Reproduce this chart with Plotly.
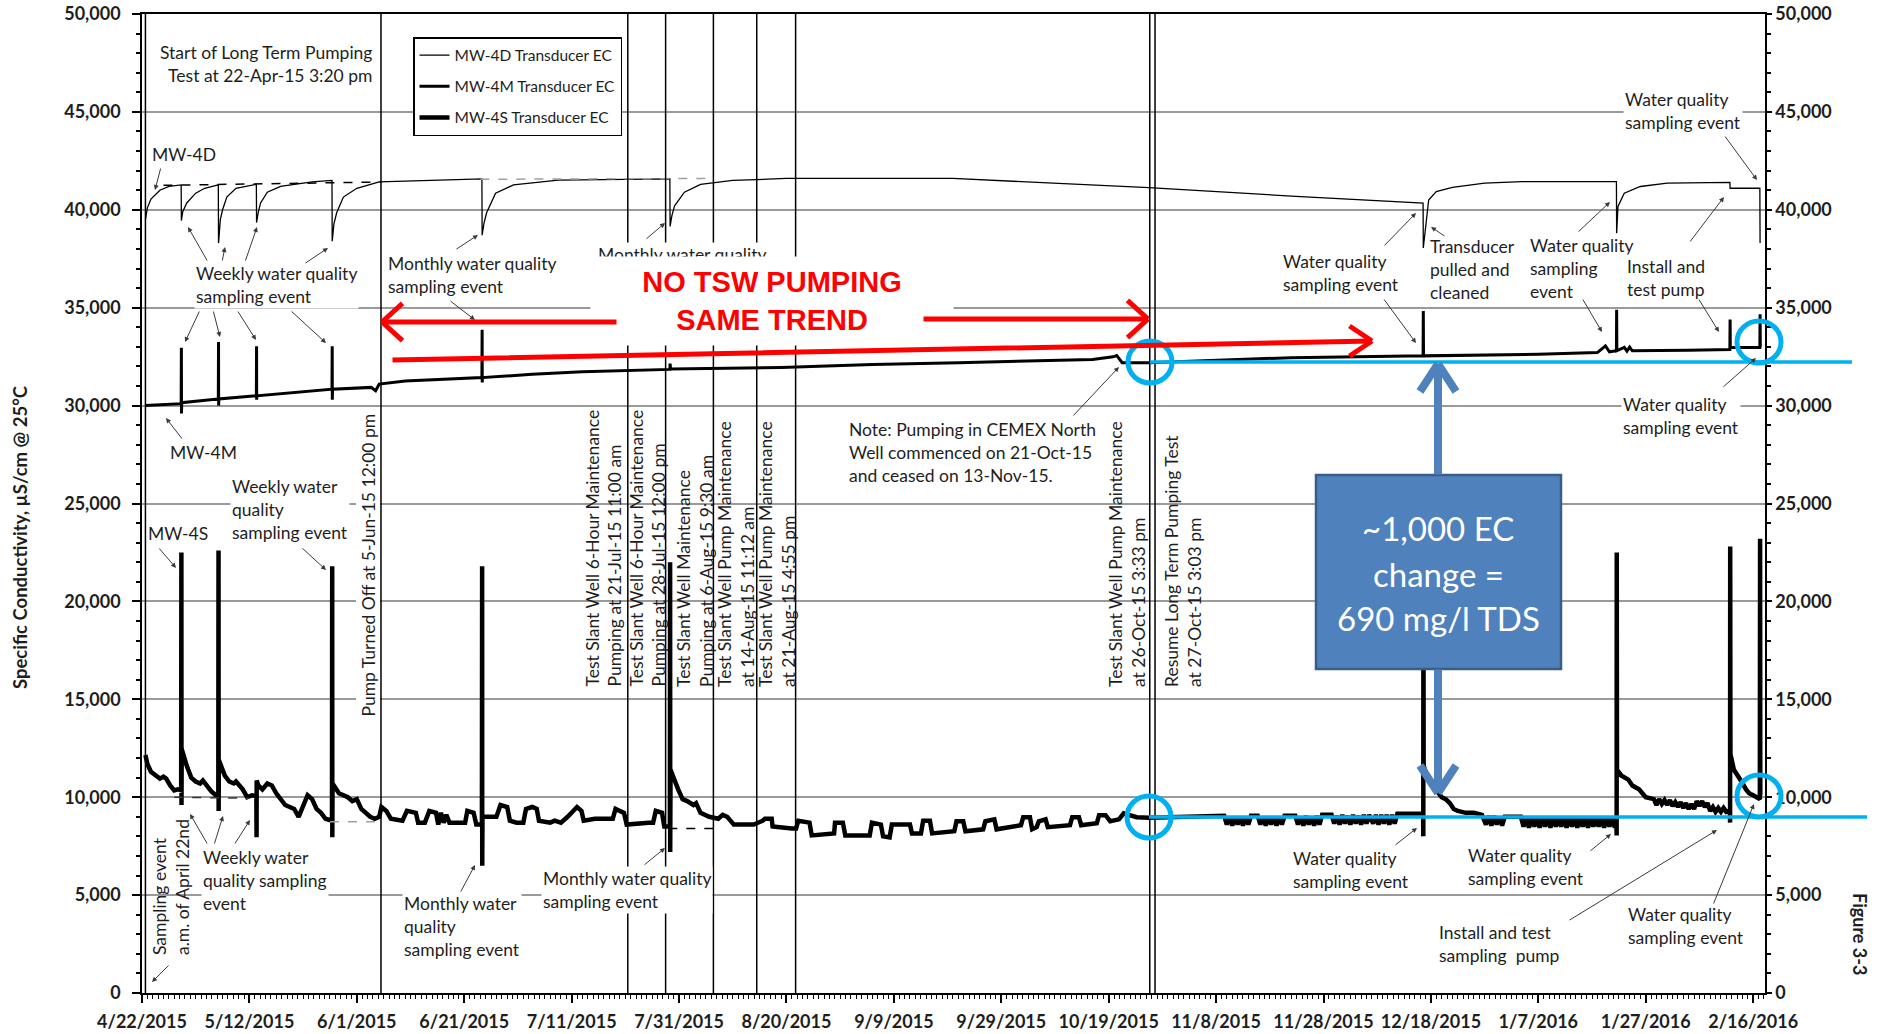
import pandas as pd
import plotly.graph_objects as go

# ------------------------------------------------------------------ data
event_times = ["2015-04-22 15:20", "2015-06-05 12:00", "2015-07-21 11:00",
               "2015-07-28 12:00", "2015-08-06 09:30", "2015-08-14 11:12",
               "2015-08-21 16:55", "2015-10-26 15:33", "2015-10-27 15:03"]

mw4d = [
    ("2015-04-22 15:20", 39500), ("2015-04-23 00:00", 40100), ("2015-04-23 16:00", 40550),
    ("2015-04-25 08:00", 41000), ("2015-04-27 00:00", 41200), ("2015-04-29 07:00", 41270),
    ("2015-04-29 08:00", 39450), ("2015-04-29 14:00", 39900), ("2015-04-30 08:00", 40350),
    ("2015-05-02 00:00", 40850), ("2015-05-03 16:00", 41100), ("2015-05-06 05:00", 41270),
    ("2015-05-06 06:00", 38300), ("2015-05-06 14:00", 39500), ("2015-05-07 00:00", 40000),
    ("2015-05-07 19:00", 40650), ("2015-05-09 12:00", 41100), ("2015-05-13 07:00", 41300),
    ("2015-05-13 08:00", 39350), ("2015-05-13 16:00", 39900), ("2015-05-14 02:00", 40350),
    ("2015-05-15 08:00", 40900), ("2015-05-17 19:00", 41200), ("2015-05-23 16:00", 41430),
    ("2015-05-27 09:00", 41500), ("2015-05-27 10:00", 38400), ("2015-05-27 18:00", 39300),
    ("2015-05-28 06:00", 39850), ("2015-05-29 12:00", 40650), ("2015-06-01 00:00", 41100),
    ("2015-06-05 04:00", 41430), ("2015-06-17 16:00", 41520), ("2015-06-24 07:00", 41580),
    ("2015-06-24 08:00", 38700), ("2015-06-24 16:00", 39300), ("2015-06-25 04:00", 39850),
    ("2015-06-26 20:00", 40850), ("2015-06-30 04:00", 41270), ("2015-07-08 12:00", 41520),
    ("2015-07-29 07:00", 41580), ("2015-07-29 08:00", 39150), ("2015-07-29 16:00", 39700),
    ("2015-07-30 04:00", 40200), ("2015-08-01 00:00", 40900), ("2015-08-04 00:00", 41300),
    ("2015-08-10 00:00", 41500), ("2015-08-20 00:00", 41600), ("2015-09-20 00:00", 41600),
    ("2015-10-05 00:00", 41420), ("2015-10-26 12:00", 41130), ("2015-11-22 00:00", 40700),
    ("2015-12-16 13:00", 40340), ("2015-12-16 14:00", 38050), ("2015-12-17 00:00", 38980),
    ("2015-12-17 14:00", 40500), ("2015-12-19 00:00", 40930), ("2015-12-22 00:00", 41150),
    ("2015-12-28 00:00", 41360), ("2016-01-04 00:00", 41440), ("2016-01-21 13:00", 41440),
    ("2016-01-21 14:00", 38800), ("2016-01-21 20:00", 40170), ("2016-01-23 00:00", 40850),
    ("2016-01-26 00:00", 41190), ("2016-01-31 00:00", 41360), ("2016-02-11 16:00", 41400),
    ("2016-02-11 17:00", 41100), ("2016-02-17 06:00", 41100), ("2016-02-17 07:00", 38300),
]

mw4m = [
    ("2015-04-22 15:20", 30000), ("2015-04-26 00:00", 30050), ("2015-04-29 07:00", 30100),
    ("2015-04-29 08:00", 32950), ("2015-04-29 08:30", 29600), ("2015-04-29 09:30", 30150),
    ("2015-05-06 05:00", 30340), ("2015-05-06 06:00", 33250), ("2015-05-06 06:30", 30000),
    ("2015-05-06 07:30", 30340), ("2015-05-13 07:00", 30500), ("2015-05-13 08:00", 33030),
    ("2015-05-13 08:30", 30300), ("2015-05-13 09:30", 30500), ("2015-05-27 09:00", 30840),
    ("2015-05-27 10:00", 33030), ("2015-05-27 10:30", 30300), ("2015-05-27 11:30", 30840),
    ("2015-06-03 16:00", 30930), ("2015-06-04 12:00", 30760), ("2015-06-05 04:00", 31100),
    ("2015-06-10 00:00", 31260), ("2015-06-24 07:00", 31430), ("2015-06-24 08:00", 33870),
    ("2015-06-24 08:30", 31180), ("2015-06-24 09:30", 31430), ("2015-07-03 16:00", 31600),
    ("2015-07-13 00:00", 31730), ("2015-07-29 07:00", 31850), ("2015-07-29 08:00", 32150),
    ("2015-07-29 10:00", 31870), ("2015-08-19 00:00", 31940), ("2015-09-05 00:00", 32100),
    ("2015-09-21 00:00", 32190), ("2015-10-08 00:00", 32310), ("2015-10-16 00:00", 32360),
    ("2015-10-19 20:00", 32490), ("2015-10-20 12:00", 32560), ("2015-10-21 12:00", 32190),
    ("2015-10-26 12:00", 32190), ("2015-11-22 00:00", 32450), ("2015-12-16 13:00", 32540),
    ("2015-12-16 14:00", 34830), ("2015-12-16 15:00", 32540), ("2016-01-07 00:00", 32620),
    ("2016-01-18 00:00", 32710), ("2016-01-19 12:00", 33050), ("2016-01-20 06:00", 32750),
    ("2016-01-21 13:00", 32800), ("2016-01-21 14:00", 34900), ("2016-01-21 15:00", 32800),
    ("2016-01-23 00:00", 32970), ("2016-01-23 12:00", 32780), ("2016-01-24 00:00", 32990),
    ("2016-01-24 12:00", 32800), ("2016-02-04 00:00", 32830), ("2016-02-11 16:00", 32870),
    ("2016-02-11 17:00", 34400), ("2016-02-11 18:00", 32970), ("2016-02-17 06:00", 32970),
    ("2016-02-17 07:00", 34660), ("2016-02-17 08:00", 32980),
]

mw4s = [
    ("2015-04-22 15:20", 12150), ("2015-04-23 00:00", 11700), ("2015-04-23 16:00", 11300),
    ("2015-04-24 12:00", 11150), ("2015-04-25 08:00", 10950), ("2015-04-26 00:00", 11050),
    ("2015-04-26 12:00", 10950), ("2015-04-27 06:00", 10600), ("2015-04-28 00:00", 10350),
    ("2015-04-28 16:00", 10400), ("2015-04-29 07:00", 10350), ("2015-04-29 08:00", 22500),
    ("2015-04-29 08:30", 9600), ("2015-04-29 09:30", 12450), ("2015-04-30 08:00", 11600),
    ("2015-05-01 04:00", 11000), ("2015-05-02 00:00", 10800), ("2015-05-02 20:00", 10700),
    ("2015-05-03 08:00", 10850), ("2015-05-04 00:00", 10600), ("2015-05-04 22:00", 10300),
    ("2015-05-05 18:00", 10100), ("2015-05-06 05:00", 10050), ("2015-05-06 06:00", 22600),
    ("2015-05-06 06:30", 9300), ("2015-05-06 07:30", 11900), ("2015-05-07 10:00", 11100),
    ("2015-05-08 06:00", 10800), ("2015-05-09 02:00", 10700), ("2015-05-09 12:00", 10800),
    ("2015-05-10 18:00", 10400), ("2015-05-11 14:00", 10000), ("2015-05-12 12:00", 10100),
    ("2015-05-13 07:00", 10050), ("2015-05-13 08:00", 7950), ("2015-05-13 08:30", 10850),
    ("2015-05-13 16:00", 10600), ("2015-05-14 10:00", 10400), ("2015-05-15 08:00", 10700),
    ("2015-05-16 04:00", 10600), ("2015-05-17 00:00", 10200), ("2015-05-17 20:00", 9900),
    ("2015-05-18 16:00", 9600), ("2015-05-19 12:00", 9500), ("2015-05-20 08:00", 9400),
    ("2015-05-21 04:00", 9000), ("2015-05-22 00:00", 9500), ("2015-05-22 20:00", 10100),
    ("2015-05-23 16:00", 9900), ("2015-05-24 12:00", 9400), ("2015-05-25 08:00", 9200),
    ("2015-05-26 04:00", 8900), ("2015-05-27 09:00", 8800), ("2015-05-27 10:00", 21800),
    ("2015-05-27 10:30", 7950), ("2015-05-27 11:30", 10700), ("2015-05-28 16:00", 10200),
    ("2015-05-29 12:00", 10100), ("2015-05-30 08:00", 10000), ("2015-05-31 04:00", 9800),
    ("2015-06-01 00:00", 9900), ("2015-06-01 20:00", 9400), ("2015-06-02 16:00", 9200),
    ("2015-06-03 12:00", 9000), ("2015-06-04 08:00", 8900), ("2015-06-05 04:00", 9000),
    ("2015-06-05 14:00", 9500), ("2015-06-06 12:00", 9300), ("2015-06-07 08:00", 8900),
    ("2015-06-09 12:00", 8800), ("2015-06-10 08:00", 9300), ("2015-06-12 00:00", 9200),
    ("2015-06-12 10:00", 8700), ("2015-06-13 16:00", 8700), ("2015-06-14 12:00", 9300),
    ("2015-06-15 18:00", 9200), ("2015-06-16 04:00", 8600), ("2015-06-16 16:00", 9200),
    ("2015-06-17 04:00", 8700), ("2015-06-17 16:00", 9100), ("2015-06-18 06:00", 8700),
    ("2015-06-21 04:00", 8700), ("2015-06-21 14:00", 9300), ("2015-06-22 18:00", 9200),
    ("2015-06-23 06:00", 8600), ("2015-06-24 07:00", 8600), ("2015-06-24 08:00", 21800),
    ("2015-06-24 08:30", 6500), ("2015-06-24 09:30", 9000), ("2015-06-27 00:00", 9000),
    ("2015-06-27 18:00", 9600), ("2015-06-29 00:00", 9500), ("2015-06-29 12:00", 8800),
    ("2015-06-30 18:00", 8700), ("2015-07-02 00:00", 8700), ("2015-07-02 12:00", 9400),
    ("2015-07-03 16:00", 9500), ("2015-07-04 12:00", 9400), ("2015-07-04 22:00", 8800),
    ("2015-07-07 00:00", 8700), ("2015-07-07 20:00", 8800), ("2015-07-09 00:00", 8700),
    ("2015-07-10 06:00", 9000), ("2015-07-12 00:00", 9500), ("2015-07-12 20:00", 9300),
    ("2015-07-13 06:00", 8800), ("2015-07-15 08:00", 8900), ("2015-07-18 16:00", 8900),
    ("2015-07-19 04:00", 9400), ("2015-07-20 18:00", 9200), ("2015-07-21 06:00", 8600),
    ("2015-07-25 08:00", 8700), ("2015-07-26 04:00", 8700), ("2015-07-26 16:00", 9300),
    ("2015-07-27 20:00", 9200), ("2015-07-28 06:00", 8500), ("2015-07-29 07:00", 8500),
    ("2015-07-29 08:00", 22000), ("2015-07-29 08:30", 7200), ("2015-07-29 10:00", 11400),
    ("2015-07-30 20:00", 10400), ("2015-07-31 16:00", 9900), ("2015-08-01 12:00", 9800),
    ("2015-08-02 08:00", 9700), ("2015-08-02 16:00", 9600), ("2015-08-03 04:00", 9700),
    ("2015-08-04 00:00", 9200), ("2015-08-05 15:00", 9000), ("2015-08-07 07:00", 8900),
    ("2015-08-08 03:00", 9100), ("2015-08-08 23:00", 9000), ("2015-08-10 05:00", 8600),
    ("2015-08-13 22:00", 8600), ("2015-08-15 14:00", 8800), ("2015-08-16 00:00", 8900),
    ("2015-08-17 06:00", 8900), ("2015-08-17 10:00", 8500), ("2015-08-21 00:00", 8400),
    ("2015-08-21 19:00", 8400), ("2015-08-22 05:00", 8800), ("2015-08-24 07:00", 8700),
    ("2015-08-24 17:00", 8050), ("2015-08-28 21:00", 8150), ("2015-08-29 01:00", 8700),
    ("2015-08-30 12:00", 8700), ("2015-08-30 23:00", 8050), ("2015-09-04 12:00", 8050),
    ("2015-09-04 22:00", 8700), ("2015-09-06 14:00", 8600), ("2015-09-07 00:00", 8000),
    ("2015-09-08 05:00", 7950), ("2015-09-08 15:00", 8600), ("2015-09-12 00:00", 8600),
    ("2015-09-12 09:00", 8150), ("2015-09-14 01:00", 8150), ("2015-09-14 11:00", 8800),
    ("2015-09-15 17:00", 8800), ("2015-09-16 03:00", 8150), ("2015-09-20 06:00", 8260),
    ("2015-09-20 16:00", 8770), ("2015-09-21 22:00", 8770), ("2015-09-22 08:00", 8260),
    ("2015-09-25 15:00", 8360), ("2015-09-26 01:00", 8770), ("2015-09-27 17:00", 8870),
    ("2015-09-28 03:00", 8360), ("2015-10-02 16:00", 8570), ("2015-10-03 02:00", 8980),
    ("2015-10-04 08:00", 8980), ("2015-10-04 18:00", 8360), ("2015-10-05 14:00", 8470),
    ("2015-10-06 00:00", 8770), ("2015-10-07 06:00", 8870), ("2015-10-07 16:00", 8470),
    ("2015-10-11 19:00", 8570), ("2015-10-12 05:00", 8980), ("2015-10-13 11:00", 8980),
    ("2015-10-13 21:00", 8570), ("2015-10-16 19:00", 8670), ("2015-10-17 05:00", 9080),
    ("2015-10-18 10:00", 9080), ("2015-10-19 07:00", 8770), ("2015-10-20 22:00", 8870),
    ("2015-10-21 19:00", 9180), ("2015-10-23 00:00", 9080), ("2015-10-24 05:00", 8980),
    ("2015-10-26 12:00", 8950), ("2015-11-09 12:00", 9050),
    ("2015-11-10 00:00", 8600), ("2015-11-10 12:00", 9000), ("2015-11-11 00:00", 8550),
    ("2015-11-11 12:00", 9000), ("2015-11-12 00:00", 8600), ("2015-11-12 12:00", 9000),
    ("2015-11-13 00:00", 8550), ("2015-11-13 12:00", 9000), ("2015-11-14 00:00", 8600),
    ("2015-11-14 12:00", 9050), ("2015-11-15 18:00", 9050),
    ("2015-11-16 06:00", 8600), ("2015-11-16 18:00", 9000), ("2015-11-17 06:00", 8550),
    ("2015-11-17 18:00", 9000), ("2015-11-18 06:00", 8600), ("2015-11-18 18:00", 9000),
    ("2015-11-19 06:00", 8550), ("2015-11-19 18:00", 9000), ("2015-11-20 06:00", 8600),
    ("2015-11-20 18:00", 9050), ("2015-11-22 18:00", 9050),
    ("2015-11-23 06:00", 8600), ("2015-11-23 18:00", 9000), ("2015-11-24 06:00", 8550),
    ("2015-11-24 18:00", 9050), ("2015-11-25 06:00", 8600), ("2015-11-25 18:00", 9000),
    ("2015-11-26 06:00", 8550), ("2015-11-26 18:00", 9050), ("2015-11-27 06:00", 8600),
    ("2015-11-27 18:00", 9100), ("2015-11-29 12:00", 9100),
    ("2015-11-30 00:00", 8650), ("2015-11-30 12:00", 9050), ("2015-12-01 00:00", 8600),
    ("2015-12-01 12:00", 9100), ("2015-12-02 00:00", 8650), ("2015-12-02 12:00", 9050),
    ("2015-12-03 00:00", 8600), ("2015-12-03 12:00", 9100), ("2015-12-04 00:00", 8650),
    ("2015-12-04 12:00", 9050), ("2015-12-05 00:00", 8600), ("2015-12-05 12:00", 9100),
    ("2015-12-06 00:00", 8650), ("2015-12-06 12:00", 9100),
    ("2015-12-07 06:00", 8650), ("2015-12-07 18:00", 9100), ("2015-12-08 06:00", 8600),
    ("2015-12-08 18:00", 9100), ("2015-12-09 06:00", 8650), ("2015-12-09 18:00", 9100),
    ("2015-12-10 06:00", 8600), ("2015-12-10 18:00", 9100), ("2015-12-11 06:00", 8650),
    ("2015-12-11 18:00", 9150), ("2015-12-16 13:00", 9150), ("2015-12-16 14:00", 8000),
    ("2015-12-16 14:30", 22600), ("2015-12-16 15:30", 11600), ("2015-12-17 12:00", 10900),
    ("2015-12-18 12:00", 10500), ("2015-12-19 06:00", 10200), ("2015-12-20 00:00", 10000),
    ("2015-12-20 18:00", 9900), ("2015-12-21 12:00", 9700), ("2015-12-22 06:00", 9400),
    ("2015-12-23 00:00", 9300), ("2015-12-24 12:00", 9200), ("2015-12-26 00:00", 9200),
    ("2015-12-27 12:00", 9100),
    ("2015-12-28 06:00", 8600), ("2015-12-28 18:00", 9050), ("2015-12-29 06:00", 8550),
    ("2015-12-29 18:00", 9050), ("2015-12-30 06:00", 8600), ("2015-12-30 18:00", 9000),
    ("2015-12-31 06:00", 8550), ("2015-12-31 18:00", 9000), ("2016-01-03 18:00", 9000),
    ("2016-01-04 06:00", 8500), ("2016-01-04 18:00", 8950), ("2016-01-05 06:00", 8450),
    ("2016-01-05 18:00", 8950), ("2016-01-06 06:00", 8500), ("2016-01-06 18:00", 8950),
    ("2016-01-07 06:00", 8450), ("2016-01-07 18:00", 8950), ("2016-01-08 06:00", 8500),
    ("2016-01-08 18:00", 8950), ("2016-01-09 06:00", 8450), ("2016-01-09 18:00", 8950),
    ("2016-01-10 06:00", 8500), ("2016-01-10 18:00", 8950),
    ("2016-01-11 06:00", 8500), ("2016-01-11 18:00", 8950), ("2016-01-12 06:00", 8450),
    ("2016-01-12 18:00", 8950), ("2016-01-13 06:00", 8500), ("2016-01-13 18:00", 8950),
    ("2016-01-14 06:00", 8450), ("2016-01-14 18:00", 8950), ("2016-01-15 06:00", 8500),
    ("2016-01-15 18:00", 8950), ("2016-01-16 06:00", 8450), ("2016-01-16 18:00", 8950),
    ("2016-01-17 06:00", 8500), ("2016-01-17 18:00", 8950),
    ("2016-01-18 06:00", 8500), ("2016-01-18 18:00", 8950), ("2016-01-19 06:00", 8450),
    ("2016-01-19 18:00", 8950), ("2016-01-20 06:00", 8500), ("2016-01-20 18:00", 8950),
    ("2016-01-21 06:00", 8450), ("2016-01-21 13:00", 8900), ("2016-01-21 14:00", 8050),
    ("2016-01-21 14:30", 22500), ("2016-01-21 15:30", 11400), ("2016-01-22 12:00", 11100),
    ("2016-01-23 18:00", 10900), ("2016-01-24 12:00", 10600), ("2016-01-25 18:00", 10400),
    ("2016-01-27 00:00", 10000), ("2016-01-28 12:00", 9900), ("2016-01-29 00:00", 9600),
    ("2016-01-29 12:00", 9900), ("2016-01-30 00:00", 9650), ("2016-01-30 12:00", 9850),
    ("2016-01-31 00:00", 9600), ("2016-01-31 12:00", 9850), ("2016-02-01 00:00", 9550),
    ("2016-02-01 12:00", 9750), ("2016-02-02 00:00", 9500), ("2016-02-02 12:00", 9750),
    ("2016-02-03 00:00", 9450), ("2016-02-03 12:00", 9700), ("2016-02-04 00:00", 9400),
    ("2016-02-04 12:00", 9650), ("2016-02-05 00:00", 9400), ("2016-02-05 12:00", 9800),
    ("2016-02-06 00:00", 9550), ("2016-02-06 12:00", 9800), ("2016-02-07 00:00", 9500),
    ("2016-02-07 12:00", 9700), ("2016-02-08 00:00", 9300), ("2016-02-08 12:00", 9500),
    ("2016-02-09 00:00", 9250), ("2016-02-09 12:00", 9450), ("2016-02-10 00:00", 9250),
    ("2016-02-10 12:00", 9450), ("2016-02-11 00:00", 9250), ("2016-02-11 16:00", 9300),
    ("2016-02-11 17:00", 8700), ("2016-02-11 17:30", 22800), ("2016-02-11 18:30", 12200),
    ("2016-02-12 10:00", 11400), ("2016-02-13 06:00", 11100), ("2016-02-13 20:00", 10800),
    ("2016-02-14 16:00", 10400), ("2016-02-15 06:00", 10200), ("2016-02-16 00:00", 10100),
    ("2016-02-16 16:00", 10000), ("2016-02-17 06:00", 9900), ("2016-02-17 07:00", 23200),
    ("2016-02-17 08:00", 10100),
]

# dashed reference (trend) lines
mw4d_trend_a = [("2015-04-26 00:00", 41250), ("2015-06-05 12:00", 41420)]
mw4d_trend_b = [("2015-06-24 00:00", 41560), ("2015-08-06 00:00", 41600)]
mw4s_trend_a = [("2015-04-28 00:00", 10000), ("2015-05-12 00:00", 9950)]
mw4s_trend_b = [("2015-05-27 00:00", 8750), ("2015-06-05 12:00", 8750)]
mw4s_trend_c = [("2015-07-29 00:00", 8400), ("2015-08-08 00:00", 8400)]

series_names = ["MW-4D Transducer EC", "MW-4M Transducer EC", "MW-4S Transducer EC"]

# ------------------------------------------------------------------ layout helpers
W, H = 1881, 1034
PL, PR, PT, PB = 142, 1765, 14, 993          # plot-area box in page pixels
X_MIN = pd.Timestamp("2015-04-22 00:00")
X_MAX = pd.Timestamp("2016-02-18 05:00")
Y_MAX = 50000

FONT = "Lato, 'Open Sans', sans-serif"
TXT = "#1e1e1e"
FS = 17.5


def xp(px):
    return (px - PL) / (PR - PL)


def yp(py):
    return (PB - py) / (PB - PT)


def unzip(pairs):
    return [p[0] for p in pairs], [p[1] for p in pairs]


fig = go.Figure()

for pairs, nm, lw, grp in [(mw4d, series_names[0], 1.3, "a"),
                           (mw4m, series_names[1], 3.0, "b"),
                           (mw4s, series_names[2], 4.5, "c")]:
    xs, ys = unzip(pairs)
    fig.add_trace(go.Scatter(x=xs, y=ys, mode="lines", name=nm, legendgroup=grp,
                             line=dict(color="black", width=lw), hoverinfo="skip"))

for pairs, col, ax in [(mw4d_trend_a, "#000000", "y"), (mw4d_trend_b, "#a0a0a0", "y"),
                       (mw4s_trend_a, "#333333", "y"), (mw4s_trend_b, "#a0a0a0", "y"),
                       (mw4s_trend_c, "#000000", "y2")]:
    xs, ys = unzip(pairs)
    fig.add_trace(go.Scatter(x=xs, y=ys, mode="lines", showlegend=False, yaxis=ax,
                             line=dict(color=col, width=1.5, dash="dash"), hoverinfo="skip"))

# ------------------------------------------------------------------ shapes
shapes = []
for t in event_times:
    shapes.append(dict(type="line", xref="x", yref="paper", x0=t, x1=t, y0=0, y1=1,
                       line=dict(color="black", width=1.5), layer="above"))
# blue call-out box
shapes.append(dict(type="rect", xref="paper", yref="paper", x0=xp(1316), x1=xp(1561),
                   y0=yp(669), y1=yp(475), fillcolor="#4F81BD",
                   line=dict(color="#385D8A", width=2.5), layer="above"))
# cyan reference lines
CYAN = "#00B0F0"
shapes.append(dict(type="line", xref="paper", yref="paper", x0=xp(1150), x1=xp(1852),
                   y0=yp(362), y1=yp(362), line=dict(color=CYAN, width=3.5), layer="above"))
shapes.append(dict(type="line", xref="paper", yref="paper", x0=xp(1149), x1=xp(1867),
                   y0=yp(817), y1=yp(817), line=dict(color=CYAN, width=3.5), layer="above"))
for cx, cy in [(1150, 362), (1759, 342), (1149, 817), (1759, 796)]:
    shapes.append(dict(type="circle", xref="paper", yref="paper", xsizemode="pixel",
                       ysizemode="pixel", xanchor=xp(cx), yanchor=yp(cy), x0=-22, x1=22,
                       y0=-21, y1=21, line=dict(color=CYAN, width=5), layer="above"))

# ------------------------------------------------------------------ annotations
ann = []


def text(t, px, py, xanchor="left", yanchor="middle", align="left", size=FS, angle=0,
         bg=True, color=TXT, weight="normal", family=FONT, **kw):
    d = dict(text=t, x=xp(px), y=yp(py), xref="paper", yref="paper",
             xanchor=xanchor, yanchor=yanchor, align=align, showarrow=False,
             textangle=angle, bgcolor="white" if bg else "rgba(0,0,0,0)", borderpad=1,
             font=dict(family=family, size=size, color=color, weight=weight))
    d.update(kw)
    ann.append(d)


def arrow(tail, tip, color="#3a3a3a", width=1, head=2, size=1.0):
    ann.append(dict(text="", x=xp(tip[0]), y=yp(tip[1]), xref="paper", yref="paper",
                    ax=tail[0] - tip[0], ay=tail[1] - tip[1], axref="pixel", ayref="pixel",
                    showarrow=True, arrowhead=head, arrowsize=size, arrowwidth=width,
                    arrowcolor=color, standoff=0, startstandoff=0))


def chevron_arrow(tail, tip, arms, color, width):
    """shaft plus an open 'V' head, like the hand-drawn call-out arrows"""
    arrow(tail, tip, color=color, width=width, head=0)
    for a in arms:
        arrow(a, tip, color=color, width=width, head=0)


text("Start of Long Term Pumping<br>Test at 22-Apr-15 3:20 pm", 374, 64, xanchor="right",
     align="right", bg=False)
text("MW-4D", 150, 155, bg=False)
text("Weekly water quality<br>sampling event", 194, 285)
text("Monthly water quality<br>sampling event", 386, 275)
text("Monthly water quality<br>sampling event", 596, 266)
text("MW-4M", 168, 452, bg=False)
text("MW-4S", 146, 533, bg=False)
text("Weekly water<br>quality<br>sampling event", 230, 509)
text("Pump Turned Off at 5-Jun-15 12:00 pm", 368, 719, xanchor="center", yanchor="bottom",
     angle=-90)
text("Sampling event<br>a.m. of April 22nd", 171, 957, xanchor="center", yanchor="bottom",
     angle=-90, bg=False)
text("Weekly water<br>quality sampling<br>event", 201, 880)
text("Monthly water<br>quality<br>sampling event", 402, 926)
text("Monthly water quality<br>sampling event", 541, 890)
for t, cx in [("Test Slant Well 6-Hour Maintenance<br>Pumping at 21-Jul-15 11:00 am", 603),
              ("Test Slant Well 6-Hour Maintenance<br>Pumping at 28-Jul-15 12:00 pm", 647),
              ("Test Slant Well Maintenance<br>Pumping at 6-Aug-15 9:30 am", 695),
              ("Test Slant Well Pump Maintenance<br>at 14-Aug-15 11:12 am", 736),
              ("Test Slant Well Pump Maintenance<br>at 21-Aug-15 4:55 pm", 777),
              ("Test Slant Well Pump Maintenance<br>at 26-Oct-15 3:33 pm", 1127),
              ("Resume Long Term Pumping Test<br>at 27-Oct-15 3:03 pm", 1183)]:
    text(t, cx, 689, xanchor="center", yanchor="bottom", angle=-90, bg=False)
text("Note: Pumping in CEMEX North<br>Well commenced on 21-Oct-15<br>and ceased on 13-Nov-15.",
     847, 452)
text("Water quality<br>sampling event", 1281, 273)
text("Transducer<br>pulled and<br>cleaned", 1428, 270)
text("Water quality<br>sampling<br>event", 1528, 268, bg=False)
text("Install and<br>test pump", 1625, 278)
text("Water quality<br>sampling event", 1623, 111)
text("Water quality<br>sampling event", 1621, 416)
text("Water quality<br>sampling event", 1291, 870)
text("Water quality<br>sampling event", 1466, 867)
text("Install and test<br>sampling  pump", 1437, 944)
text("Water quality<br>sampling event", 1626, 926)

# red headline on a white panel (hides lines / the text behind it)
text("NO TSW PUMPING<br>SAME TREND", 772, 301, xanchor="center", align="center", size=29,
     bg=True, color="#FF0000", weight="bold", family="'Liberation Sans', Arial, sans-serif",
     width=360, height=86, valign="middle")

# thin black pointer arrows
for tail, tip in [((161, 167), (155, 190)),
                  ((208, 262), (188, 227)), ((222, 262), (225, 247)), ((245, 262), (257, 227)),
                  ((304, 264), (328, 248)),
                  ((200, 310), (185, 342)), ((213, 310), (220, 337)), ((237, 310), (256, 340)),
                  ((290, 310), (326, 343)),
                  ((455, 250), (478, 235)), ((449, 300), (475, 320)), ((645, 240), (665, 223)),
                  ((183, 440), (166, 418)), ((158, 547), (176, 568)), ((301, 547), (326, 570)),
                  ((170, 964), (152, 982)),
                  ((208, 845), (190, 814)), ((214, 845), (223, 816)), ((234, 845), (250, 820)),
                  ((460, 893), (475, 865)), ((643, 866), (665, 848)),
                  ((1072, 417), (1119, 367)),
                  ((1383, 247), (1416, 213)), ((1383, 298), (1416, 343)),
                  ((1446, 237), (1431, 227)),
                  ((1577, 233), (1610, 202)), ((1582, 298), (1602, 332)),
                  ((1689, 243), (1724, 197)), ((1698, 298), (1719, 332)),
                  ((1724, 135), (1757, 180)), ((1722, 388), (1756, 358)),
                  ((1394, 846), (1417, 828)), ((1589, 852), (1611, 834)),
                  ((1568, 921), (1717, 830)), ((1713, 905), (1754, 804))]:
    arrow(tail, tip)

# red arrows with open heads
RED = "#FF0000"
chevron_arrow((618, 322), (382, 322), [(404, 302), (404, 342)], RED, 5)
chevron_arrow((922, 319), (1148, 319), [(1126, 299), (1126, 339)], RED, 5)
chevron_arrow((391, 360), (1372, 341), [(1348, 325), (1348, 357)], RED, 5)

# blue double arrow and box text
BLUE = "#4F81BD"
chevron_arrow((1438, 476), (1438, 364), [(1419, 393), (1457, 393)], BLUE, 8)
chevron_arrow((1438, 668), (1438, 793), [(1419, 764), (1457, 764)], BLUE, 8)
for t, cy in [("~1,000 EC", 528), ("change =", 574), ("690 mg/l TDS", 618)]:
    text(t, 1438, cy, xanchor="center", align="center", size=33, bg=False, color="white")

# axis title and figure label
text("Specific Conductivity, µS/cm @ 25°C", 20, 537, xanchor="center", align="center",
     size=18.5, angle=-90, bg=False, weight="bold")
text("Figure 3-3", 1860, 934, xanchor="center", align="center", size=18, angle=90,
     bg=False, weight="bold")

# ------------------------------------------------------------------ axes
tickfont = dict(family=FONT, size=18, color="#1e1e1e", weight="bold")
fig.update_layout(
    width=W, height=H,
    margin=dict(l=PL, r=W - PR, t=PT, b=H - PB, pad=0, autoexpand=False),
    paper_bgcolor="white", plot_bgcolor="white",
    shapes=shapes, annotations=ann,
    showlegend=True,
    legend=dict(x=xp(413), y=yp(37), xanchor="left", yanchor="top", bgcolor="white",
                bordercolor="black", borderwidth=1.5, tracegroupgap=8,
                font=dict(family=FONT, size=15.5, color="#1e1e1e"),
                itemwidth=30, traceorder="grouped"),
    xaxis=dict(type="date", range=[X_MIN, X_MAX], tick0="2015-04-22", dtick=20 * 86400000,
               tickformat="%-m/%-d/%Y", ticks="outside", ticklen=8, tickwidth=1.5,
               tickcolor="black", showgrid=False, zeroline=False, showline=True,
               linecolor="black", linewidth=1.5, mirror=True, tickfont=tickfont,
               ticklabelstandoff=4, automargin=False, ticklabeloverflow="allow",
               minor=dict(dtick=86400000, ticks="outside", ticklen=4, tickcolor="black",
                          tickwidth=1)),
    yaxis=dict(range=[0, Y_MAX], dtick=5000, tickformat=",d", ticks="outside", ticklen=8,
               tickwidth=1.5, tickcolor="black", showgrid=True, gridcolor="#9a9a9a",
               gridwidth=1.5, zeroline=False, showline=True, linecolor="black",
               linewidth=1.5, tickfont=tickfont, ticklabelstandoff=8, automargin=False,
               ticklabeloverflow="allow",
               minor=dict(dtick=1000, ticks="outside", ticklen=4, tickcolor="black")),
    yaxis2=dict(range=[0, Y_MAX], dtick=5000, tickformat=",d", overlaying="y", side="right",
                ticks="outside", ticklen=5, tickwidth=1.5, tickcolor="black", showgrid=False,
                zeroline=False, showline=True, linecolor="black", linewidth=1.5,
                tickfont=tickfont, ticklabelstandoff=0, automargin=False,
                ticklabeloverflow="allow",
                minor=dict(dtick=1000, ticks="outside", ticklen=4, tickcolor="black")),
)

# the page body gets no margin, so the figure sits at the window's top-left corner
fig.write_html("out.html", config={"displayModeBar": False},
               post_script="document.body.style.margin='0px';")
